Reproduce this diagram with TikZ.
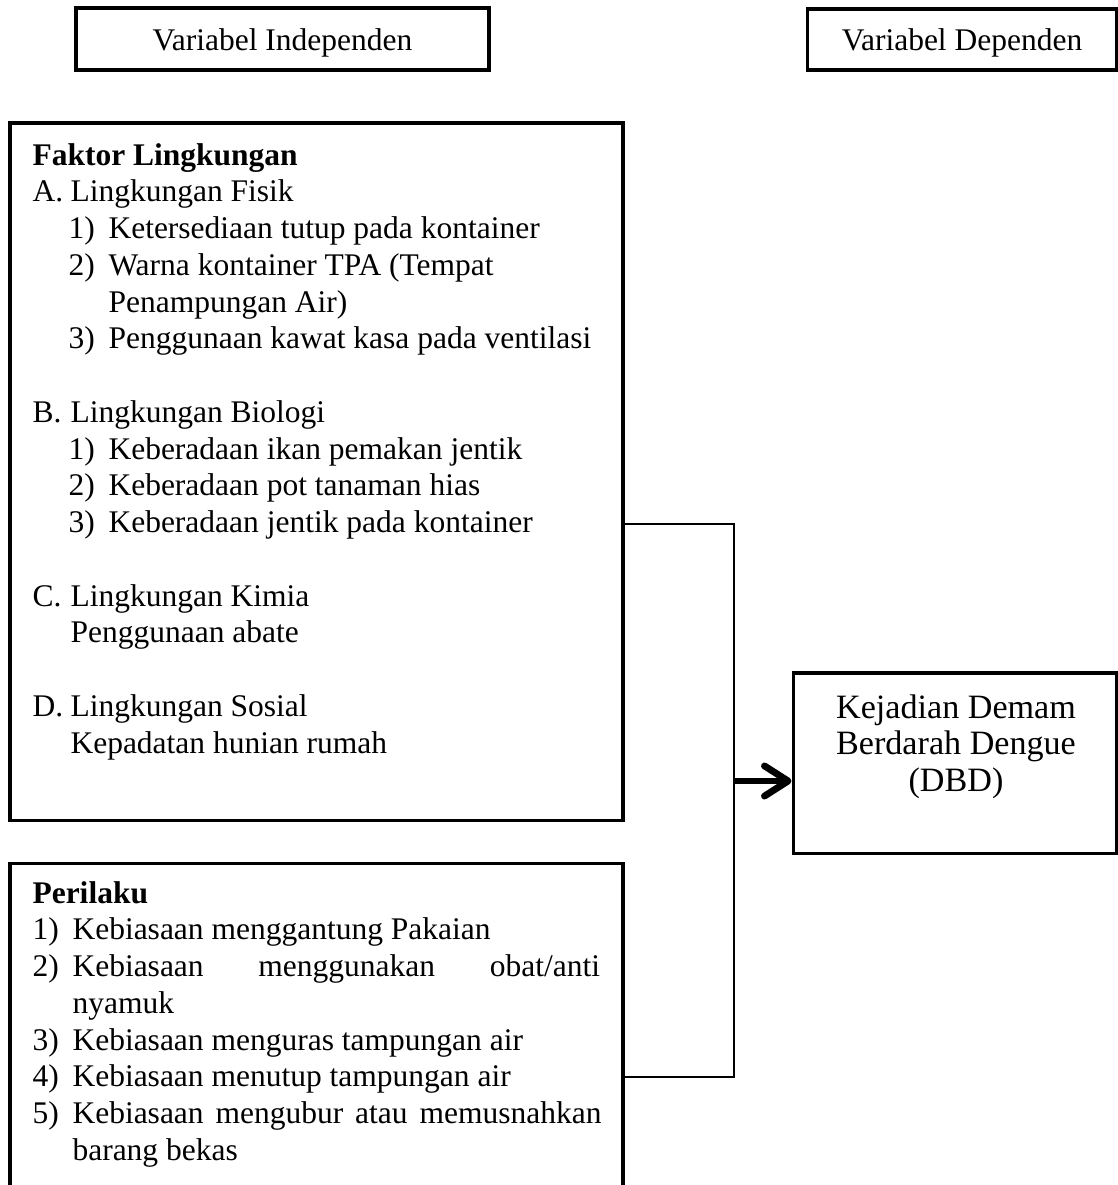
\documentclass[tikz,border=0pt]{standalone}
\usepackage{fontspec}
\setmainfont{Liberation Serif}
\usetikzlibrary{arrows.meta,fit}
\begin{document}
\begin{tikzpicture}[x=0.380952pt, y=-0.380952pt,
  box/.style={draw, line width=1.15pt, inner sep=0pt},
  txt/.style={anchor=base west, inner sep=0pt, font=\fontsize{12}{14}\selectfont},
  hdr/.style={anchor=base west, inner sep=0pt, font=\fontsize{12}{14}\selectfont\bfseries},
  ctxt/.style={anchor=base, inner sep=0pt, font=\fontsize{12}{14}\selectfont},
  dtxt/.style={anchor=base, inner sep=0pt, font=\fontsize{13}{14}\selectfont},
  conn/.style={line width=0.5pt},
  bigarrow/.style={line width=2.6pt, -{Straight Barb[length=9pt,width=11.5pt,round]}}]
\useasboundingbox (0,0) rectangle (1118,1185);
\clip (0,0) rectangle (1118,1185);

% header boxes
\node[box, fit={(76,8)(489,70)}] (indep) {};
\node[ctxt] (indepT) at (282.5,50) {Variabel Independen};
\node[box, fit={(807,9)(1116,70)}] (dep) {};
\node[ctxt] (depT) at (962,50) {Variabel Dependen};

% Faktor Lingkungan box
\node[box, fit={(10,123)(623,820)}] (fl) {};
\node[hdr] (f0) at (32,165) {Faktor Lingkungan};
\node[txt] (fA) at (32,201.75) {A.};
\node[txt] (fAt) at (70,201.75) {Lingkungan Fisik};
\node[txt] (fA1) at (68,238.5) {1)};
\node[txt] (fA1t) at (108,238.5) {Ketersediaan tutup pada kontainer};
\node[txt] (fA2) at (68,275.25) {2)};
\node[txt] (fA2t) at (108,275.25) {Warna kontainer TPA (Tempat};
\node[txt] (fA2u) at (108,312) {Penampungan Air)};
\node[txt] (fA3) at (68,348.75) {3)};
\node[txt] (fA3t) at (108,348.75) {Penggunaan kawat kasa pada ventilasi};
\node[txt] (fB) at (32,422.25) {B.};
\node[txt] (fBt) at (70,422.25) {Lingkungan Biologi};
\node[txt] (fB1) at (68,459) {1)};
\node[txt] (fB1t) at (108,459) {Keberadaan ikan pemakan jentik};
\node[txt] (fB2) at (68,495.75) {2)};
\node[txt] (fB2t) at (108,495.75) {Keberadaan pot tanaman hias};
\node[txt] (fB3) at (68,532.5) {3)};
\node[txt] (fB3t) at (108,532.5) {Keberadaan jentik pada kontainer};
\node[txt] (fC) at (32,606) {C.};
\node[txt] (fCt) at (70,606) {Lingkungan Kimia};
\node[txt] (fC1) at (70,642.75) {Penggunaan abate};
\node[txt] (fD) at (32,716.25) {D.};
\node[txt] (fDt) at (70,716.25) {Lingkungan Sosial};
\node[txt] (fD1) at (70,753) {Kepadatan hunian rumah};

% Perilaku box
\node[box, fit={(10,863)(623,1210)}] (pr) {};
\node[hdr] (p0) at (32,903) {Perilaku};
\node[txt] (p1) at (32,939.75) {1)};
\node[txt] (p1t) at (72,939.75) {Kebiasaan menggantung Pakaian};
\node[txt] (p2) at (32,976.5) {2)};
\node[txt] (p2t) at (72,976.5) {\makebox[201pt][s]{Kebiasaan menggunakan obat/anti}};
\node[txt] (p2u) at (72,1013.25) {nyamuk};
\node[txt] (p3) at (32,1050) {3)};
\node[txt] (p3t) at (72,1050) {Kebiasaan menguras tampungan air};
\node[txt] (p4) at (32,1086.75) {4)};
\node[txt] (p4t) at (72,1086.75) {Kebiasaan menutup tampungan air};
\node[txt] (p5) at (32,1123.5) {5)};
\node[txt] (p5t) at (72,1123.5) {\makebox[201.5pt][s]{Kebiasaan mengubur atau memusnahkan}};
\node[txt] (p5u) at (72,1160.25) {barang bekas};

% DBD box
\node[box, fit={(793,673)(1116,853)}] (dbd) {};
\node[dtxt] (d1) at (956,718) {Kejadian Demam};
\node[dtxt] (d2) at (956,754.5) {Berdarah Dengue};
\node[dtxt] (d3) at (956,791) {(DBD)};

% connectors
\coordinate (bt) at (734,524);
\coordinate (bb) at (734,1077);
\coordinate (jn) at (734,781);
\draw[conn] (fl.east |- bt) -- (bt) -- (bb) -- (pr.east |- bb);
\draw[bigarrow] (jn) -- (jn -| dbd.west);
\end{tikzpicture}
\end{document}
